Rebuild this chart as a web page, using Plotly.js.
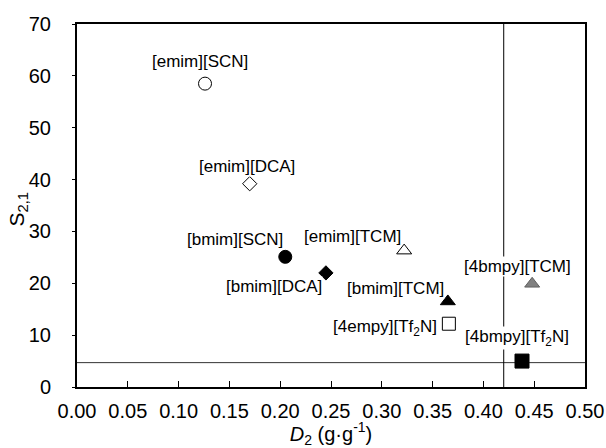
<!DOCTYPE html>
<html>
<head>
<meta charset="utf-8">
<script src="https://cdn.plot.ly/plotly-3.0.1.min.js"></script>
<style>html,body{margin:0;padding:0;background:#fff;}#chart{width:606px;height:448px;}</style>
</head>
<body>
<div id="chart"></div>
<script>
// Data
var names = ["[emim][SCN]", "[emim][DCA]", "[bmim][SCN]", "[bmim][DCA]", "[emim][TCM]",
             "[bmim][TCM]", "[4empy][Tf<sub>2</sub>N]", "[4bmpy][TCM]", "[4bmpy][Tf<sub>2</sub>N]"];
var D2 = [0.126, 0.170, 0.205, 0.245, 0.322, 0.365, 0.366, 0.448, 0.438];
var S21 = [58.5, 39.2, 25.1, 22.0, 26.3, 16.5, 12.2, 19.9, 5.0];
var selectivityLimit = 4.7;   // horizontal reference line (S2,1)
var capacityLimit = 0.42;     // vertical reference line (D2)
var xTicks = [0, 0.05, 0.10, 0.15, 0.20, 0.25, 0.30, 0.35, 0.40, 0.45, 0.50];
var yTicks = [0, 10, 20, 30, 40, 50, 60, 70];
var xTitle = "<i>D</i><sub>2</sub> (g·g<sup>-1</sup>)";
var yTitle = "S<sub>2,1</sub>";

// Styles
var symbols = ["circle", "diamond", "circle", "diamond", "triangle-up", "triangle-up", "square", "triangle-up", "square"];
var fills   = ["#ffffff", "#ffffff", "#000000", "#000000", "#ffffff", "#000000", "#ffffff", "#808080", "#000000"];
var lines   = ["#000000", "#000000", "#000000", "#000000", "#000000", "#000000", "#000000", "#606060", "#000000"];
var sizes   = [13, 11, 13, 11, 13, 13, 13, 13, 14];
var labelDx = [-5, -3, -50, -52, -52, -52, -64, -15, -5];
var labelDy = [22, 17, 17, -14, 14, 13, -4, 17, 23];
var FONT = "Liberation Sans, Arial, sans-serif";

var traces = [{
  type: "scatter", mode: "markers", x: D2, y: S21, cliponaxis: false,
  marker: {symbol: symbols, color: fills, size: sizes, opacity: 1, line: {color: lines, width: 1}},
  hoverinfo: "skip", showlegend: false
}];

var annotations = names.map(function (n, i) {
  return {x: D2[i], y: S21[i], xref: "x", yref: "y", text: n, showarrow: false,
          xshift: labelDx[i], yshift: labelDy[i], bgcolor: "#ffffff", borderpad: 0,
          font: {family: FONT, size: 17, color: "#000"}};
});
annotations.push({xref: "paper", yref: "paper", x: 0, y: 0.5, text: yTitle, textangle: -90,
  showarrow: false, xshift: -75, yshift: -4, font: {family: FONT, size: 21, color: "#000"}});

var layout = {
  width: 606, height: 448,
  margin: {l: 77, r: 21, t: 24, b: 61, pad: 0},
  paper_bgcolor: "#fff", plot_bgcolor: "#fff",
  font: {family: FONT, size: 20, color: "#000"},
  xaxis: {
    range: [0, 0.5], tickvals: xTicks, ticktext: xTicks.map(function (v) { return v.toFixed(2); }),
    ticks: "inside", ticklen: 6, tickcolor: "#000", tickwidth: 1,
    showgrid: false, zeroline: false, showline: true, linecolor: "#000", linewidth: 2, mirror: true,
    ticklabelstandoff: 5, tickfont: {size: 20},
    title: {text: xTitle, standoff: 2, font: {size: 20}}
  },
  yaxis: {
    range: [0, 70], tickvals: yTicks,
    ticks: "outside", ticklen: 3, tickcolor: "#000", tickwidth: 1,
    showgrid: false, zeroline: false, showline: true, linecolor: "#000", linewidth: 2, mirror: true,
    ticklabelstandoff: 17, tickfont: {size: 20}
  },
  shapes: [
    {type: "line", xref: "x", yref: "y", x0: 0, x1: 0.5, y0: selectivityLimit, y1: selectivityLimit,
     line: {color: "#333", width: 1}, layer: "below"},
    {type: "line", xref: "x", yref: "y", x0: capacityLimit, x1: capacityLimit, y0: 0, y1: 70,
     line: {color: "#000", width: 1}, layer: "below"}
  ],
  annotations: annotations
};

Plotly.newPlot("chart", traces, layout, {staticPlot: true, displayModeBar: false});
</script>
</body>
</html>
